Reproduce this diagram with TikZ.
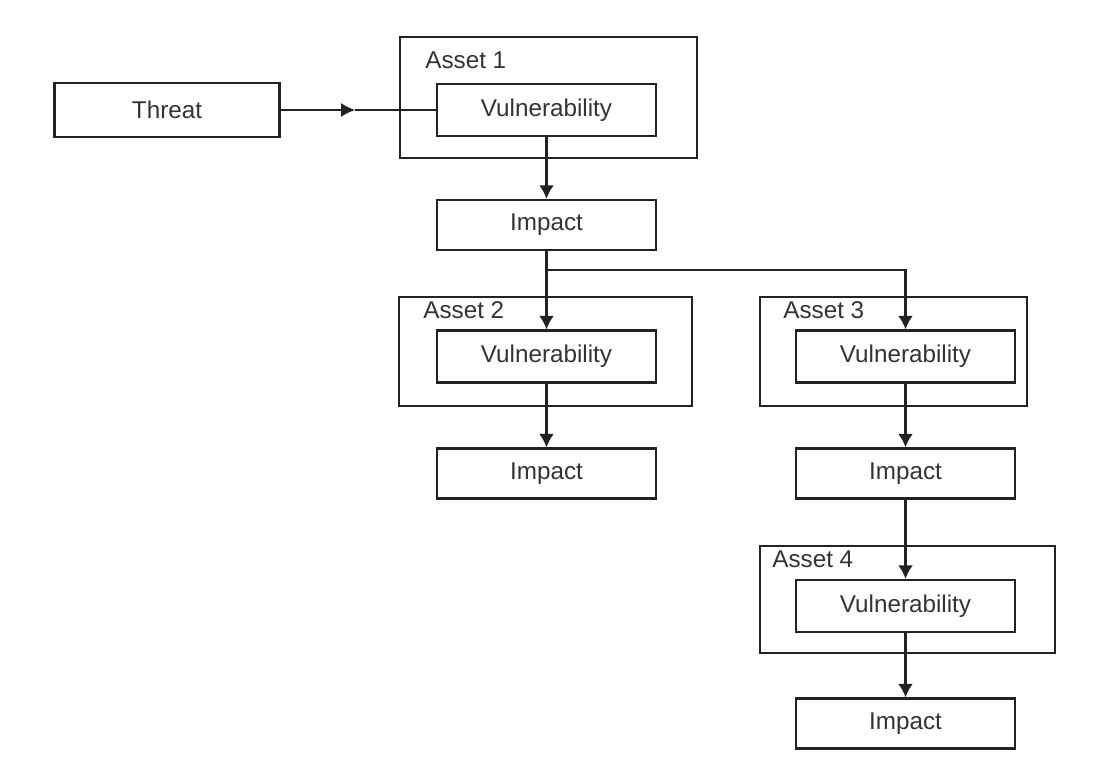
\documentclass[tikz,border=0pt]{standalone}
\usepackage{fontspec}
\setmainfont{Liberation Sans}
\usepackage{tikz}
\usepackage{xcolor}
\usetikzlibrary{arrows.meta,positioning}
\definecolor{LineDark}{HTML}{222222}
\definecolor{TextDark}{HTML}{333333}

\begin{document}
\begin{tikzpicture}[
      font=\fontsize{13.8}{16}\selectfont,
      >=Latex,
      assetbox/.style={draw=LineDark,line width=1.6pt,inner sep=0pt},
      vulbox/.style={draw=LineDark,fill=white,line width=1.3pt,minimum width=4.38cm,minimum height=1.04cm,text=TextDark},
      impbox/.style={draw=LineDark,fill=white,line width=1.3pt,minimum width=4.38cm,minimum height=1.0cm,text=TextDark},
      assetlabel/.style={anchor=base west,inner sep=0pt,text=TextDark},
      arr/.style={-{Latex[length=2.7mm,width=3.0mm]},line width=1.4pt,draw=LineDark},
      thinline/.style={line width=0.8pt,draw=LineDark}
    ]
      \useasboundingbox (0,0) rectangle (22.08,15.52);
      \fill[white] (0,0) rectangle (22.08,15.52);
      % asset frames
      \node[assetbox,minimum width=5.94cm,minimum height=2.42cm] (asset1) at (10.97,13.57) {};
      \node[assetbox,minimum width=5.86cm,minimum height=2.18cm] (asset2) at (10.91,8.49) {};
      \node[assetbox,minimum width=5.34cm,minimum height=2.18cm] (asset3) at (17.87,8.49) {};
      \node[assetbox,minimum width=5.90cm,minimum height=2.14cm] (asset4) at (18.15,3.53) {};
      \node[assetlabel] (lab1) at (8.50,14.14) {Asset 1};
      \node[assetlabel] (lab2) at (8.46,9.14) {Asset 2};
      \node[assetlabel] (lab3) at (15.66,9.14) {Asset 3};
      \node[assetlabel] (lab4) at (15.44,4.18) {Asset 4};
      % boxes
      \node[impbox,minimum width=4.5cm,minimum height=1.08cm] (threat) at (3.34,13.32) {Threat};
      \node[vulbox] (vul1) at (10.93,13.32) {Vulnerability};
      \node[impbox] (imp1) at (10.93,11.02) {Impact};
      \node[vulbox] (vul2) at (10.93,8.39) {Vulnerability};
      \node[impbox] (imp2) at (10.93,6.05) {Impact};
      \node[vulbox] (vul3) at (18.11,8.39) {Vulnerability};
      \node[impbox] (imp3) at (18.11,6.05) {Impact};
      \node[vulbox] (vul4) at (18.11,3.40) {Vulnerability};
      \node[impbox] (imp4) at (18.11,1.05) {Impact};
      % connectors
      \coordinate (tmid) at (7.1,13.32);
      \coordinate (split) at (10.93,10.12);
      \draw[thinline,-{Latex[length=2.8mm,width=2.8mm]}] (threat) -- (tmid);
      \draw[thinline] (tmid) -- (vul1);
      \draw[arr] (vul1) -- (imp1);
      \draw[line width=1.4pt,draw=LineDark] (imp1) -- (split);
      \draw[arr] (split) -- (vul2);
      \draw[arr] (split) -| (vul3);
      \draw[arr] (vul2) -- (imp2);
      \draw[arr] (vul3) -- (imp3);
      \draw[arr] (imp3) -- (vul4);
      \draw[arr] (vul4) -- (imp4);
    \end{tikzpicture}
\end{document}
